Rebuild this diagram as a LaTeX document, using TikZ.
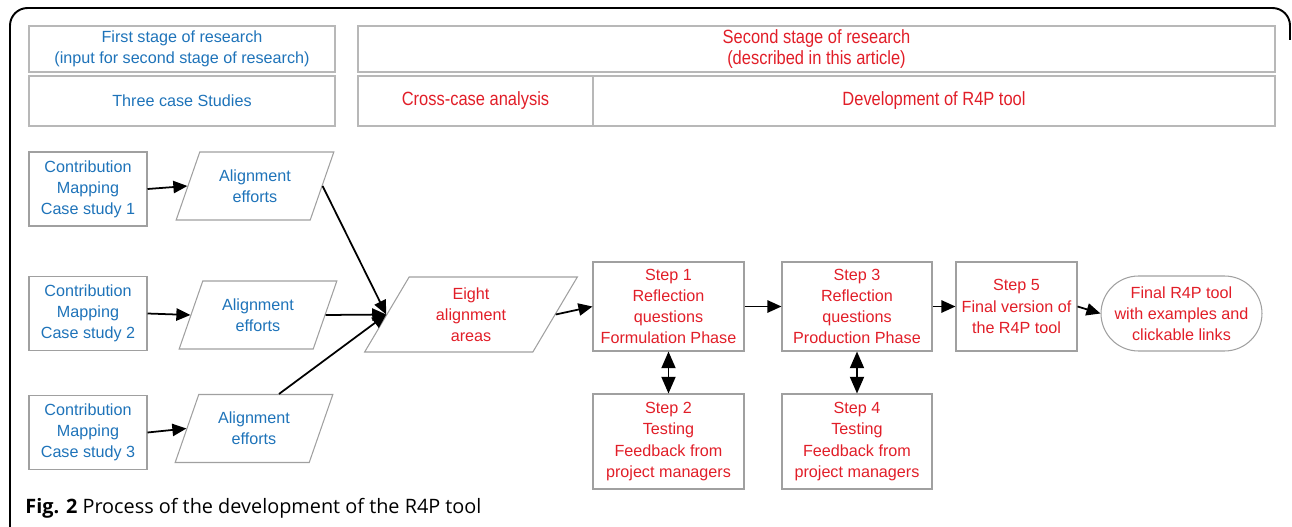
\documentclass[tikz,border=0pt]{standalone}
\usepackage{fontspec}
\setmainfont{Liberation Sans}
\newfontfamily\capfont{Open Sans}
\newfontfamily\narrowfont[FakeStretch=0.86]{Liberation Sans}
\usetikzlibrary{shapes.geometric,shapes.misc,arrows.meta}
\definecolor{stageblue}{RGB}{30,115,185}
\definecolor{stagered}{RGB}{225,30,40}
\definecolor{boxgray}{RGB}{160,160,160}
\tikzset{
  hdrbox/.style={draw=boxgray!75, line width=0.9pt, align=center, inner sep=0pt},
  hdrred/.style={hdrbox, text=stagered, font=\narrowfont\fontsize{10.9}{12}\selectfont},
  casebox/.style={draw=boxgray, line width=0.6pt, align=center, inner sep=0pt,
    minimum width=2.36cm, minimum height=1.48cm, text=stageblue},
  effortbox/.style={trapezium, trapezium left angle=65, trapezium right angle=115,
    trapezium stretches=true, draw=boxgray, line width=0.6pt, align=center, inner sep=0pt,
    minimum width=3.16cm, minimum height=1.36cm},
  stepbox/.style={draw=boxgray, line width=0.6pt, align=center, inner sep=0pt, text=stagered},
  flow/.style={-{Triangle[length=8pt,width=7pt]}, line width=1pt},
  twoway/.style={{Triangle[length=9.5pt,width=8pt]}-{Triangle[length=9.5pt,width=8pt]}, line width=1pt}
}

\begin{document}
\begin{tikzpicture}[x=0.02cm, y=-0.02cm, font=\fontsize{9.2}{12}\selectfont]
\useasboundingbox (0,0) rectangle (1292,527);
% frame
\draw[line width=1.1pt, rounded corners=10] (10,527) -- (10,8) -- (1290,8) -- (1290,40);

% header
\node[hdrbox, minimum width=6.12cm, minimum height=0.92cm, text=stageblue] (hdrFirst) at (182,49)
  {First stage of research\\(input for second stage of research)};
\node[hdrbox, minimum width=6.12cm, minimum height=1.0cm, text=stageblue] (hdrCases) at (182,101)
  {Three case Studies};
\node[hdrred, minimum width=18.34cm, minimum height=0.92cm] (hdrSecond) at (816.5,49)
  {Second stage of research\\(described in this article)};
\node[hdrred, minimum width=4.7cm, minimum height=1.0cm] (hdrCross) at (475.5,101)
  {Cross-case analysis};
\node[hdrred, minimum width=13.64cm, minimum height=1.0cm] (hdrDev) at (934,101)
  {Development of R4P tool};

% case studies
\node[casebox] (case1) at (88,189) {Contribution\\Mapping\\Case study 1};
\node[casebox] (case2) at (88,313.5) {Contribution\\Mapping\\Case study 2};
\node[casebox] (case3) at (88,432.5) {Contribution\\Mapping\\Case study 3};

\node[effortbox, text=stageblue] (effort1) at (255,186) {Alignment\\efforts};
\node[effortbox, text=stageblue] (effort2) at (258,315) {Alignment\\efforts};
\node[effortbox, text=stageblue] (effort3) at (254,428.5) {Alignment\\efforts};

\node[effortbox, minimum width=4.28cm, minimum height=1.5cm, text=stagered] (eight) at (471,314.5)
  {Eight\\alignment\\areas};

% steps
\node[stepbox, minimum width=3.02cm, minimum height=1.78cm] (step1) at (668.5,306.5)
  {Step 1\\Reflection\\questions\\Formulation Phase};
\node[stepbox, minimum width=3.02cm, minimum height=1.9cm] (step2) at (668.5,441.5)
  {Step 2\\Testing\\Feedback from\\project managers};
\node[stepbox, minimum width=3.0cm, minimum height=1.78cm] (step3) at (857,306.5)
  {Step 3\\Reflection\\questions\\Production Phase};
\node[stepbox, minimum width=3.0cm, minimum height=1.9cm] (step4) at (857,441.5)
  {Step 4\\Testing\\Feedback from\\project managers};
\node[stepbox, minimum width=2.42cm, minimum height=1.78cm] (step5) at (1016.5,306.5)
  {Step 5\\Final version of\\the R4P tool};
\node[stepbox, rounded rectangle, rounded rectangle arc length=180, minimum width=3.22cm, minimum height=1.5cm] (final) at (1181.5,313.5)
  {Final R4P tool\\with examples and\\clickable links};

% connectors
\draw[flow] (case1.east) -- (effort1.west);
\draw[flow] (case2.east) -- (effort2.west);
\draw[flow] (case3.east) -- (effort3.west);
\draw[flow] (effort1.east) -- (eight.west);
\draw[flow] (effort2.east) -- (eight.west);
\draw[flow] ([xshift=0.5cm]effort3.north) -- (eight.west);
\draw[flow] (eight.east) -- (step1.west);
\draw[flow] (step1.east) -- (step3.west);
\draw[flow] (step3.east) -- (step5.west);
\draw[flow] (step5.east) -- (final.west);
\draw[twoway] (step1.south) -- (step2.north);
\draw[twoway] (step3.south) -- (step4.north);

% caption
\node[anchor=west, inner sep=0pt, font=\capfont\fontsize{11.3}{13}\selectfont] (caption) at (25,508)
  {\textbf{Fig. 2} Process of the development of the R4P tool};
\end{tikzpicture}
\end{document}
